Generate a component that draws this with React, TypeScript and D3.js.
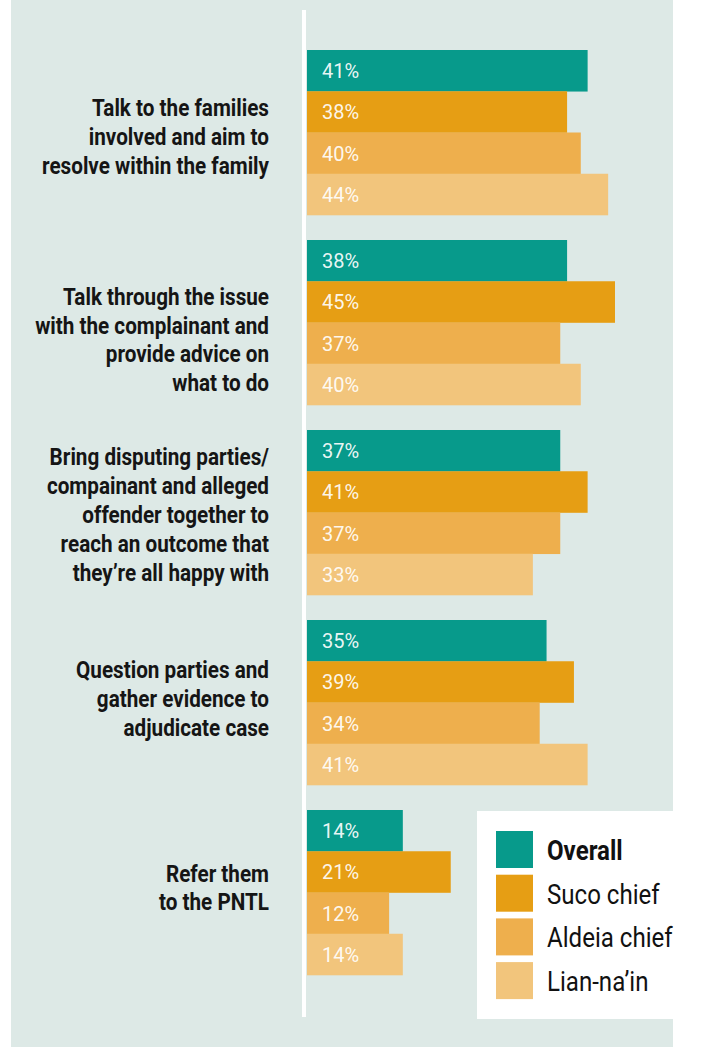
import React from "react";
import * as d3 from "d3";

const categories: string[][] = [
  ["Talk to the families", "involved and aim to", "resolve within the family"],
  ["Talk through the issue", "with the complainant and", "provide advice on", "what to do"],
  ["Bring disputing parties/", "compainant and alleged", "offender together to", "reach an outcome that", "they\u2019re all happy with"],
  ["Question parties and", "gather evidence to", "adjudicate case"],
  ["Refer them", "to the PNTL"],
];

const seriesNames = ["Overall", "Suco chief", "Aldeia chief", "Lian-na\u2019in"];

const overall = [41, 38, 37, 35, 14];
const sucoChief = [38, 45, 41, 39, 21];
const aldeiaChief = [40, 37, 37, 34, 12];
const lianNain = [44, 40, 33, 41, 14];

const seriesValues = [overall, sucoChief, aldeiaChief, lianNain];
const colors = ["#079a8b", "#e69e14", "#eeaf4d", "#f2c57c"];

// small vertical nudges of the category labels (layout only)
const labelNudge = [5, 18, 3, -3, -4];

const W = 713;
const H = 1047;

export default function App() {
  const keys = categories.map((_, i) => String(i));
  const y = d3
    .scaleBand<string>()
    .domain(keys)
    .range([50, 975])
    .paddingInner(25 / 190)
    .paddingOuter(0);
  const yInner = d3
    .scaleBand<string>()
    .domain(seriesNames)
    .range([0, y.bandwidth()])
    .padding(0);
  const x = d3.scaleLinear().domain([0, 45]).range([307, 615]);

  const labelFont = "Roboto, 'Noto Sans', sans-serif";
  const condense = 0.88;
  const labelRight = 269;
  const lineH = 28.8;

  const legendX = 496;
  const legendY = 831;
  const legendStep = 43.7;
  const sw = 37;

  return (
    <div style={{ position: "absolute", left: 0, top: 0 }}>
      <svg width={W} height={H} style={{ display: "block" }}>
        <rect x={0} y={0} width={W} height={H} fill="#ffffff" />
        <rect x={11} y={0} width={662} height={H} fill="#dde9e6" />
        <rect x={302} y={10} width={4} height={1007} fill="#ffffff" />

        {keys.map((k, ci) => {
          const lines = categories[ci];
          const cy = (y(k) as number) + y.bandwidth() / 2 + labelNudge[ci];
          const firstBaseline = cy - ((lines.length - 1) * lineH) / 2 + 7.5;
          return (
            <g key={"g" + k}>
              {seriesNames.map((s, si) => {
                const v = seriesValues[si][ci];
                const by = (y(k) as number) + (yInner(s) as number);
                return (
                  <g key={s}>
                    <rect
                      x={x(0)}
                      y={by}
                      width={x(v) - x(0)}
                      height={yInner.bandwidth() + 0.3}
                      fill={colors[si]}
                    />
                    <text
                      x={322}
                      y={by + yInner.bandwidth() / 2 + 7.5}
                      fill="#ffffff"
                      fillOpacity={0.93}
                      fontFamily={labelFont}
                      fontSize={20}
                    >
                      {v}%
                    </text>
                  </g>
                );
              })}
              {lines.map((ln, li) => (
                <text
                  key={li}
                  transform={`translate(${labelRight},${firstBaseline + li * lineH}) scale(${condense},1)`}
                  textAnchor="end"
                  fontFamily={labelFont}
                  fontWeight={700}
                  fontSize={23.5}
                  fill="#151515"
                >
                  {ln}
                </text>
              ))}
            </g>
          );
        })}

        <rect x={477} y={811} width={196} height={208} fill="#ffffff" />
        {seriesNames.map((s, si) => {
          const top = legendY + si * legendStep;
          return (
            <g key={"l" + s}>
              <rect x={legendX} y={top} width={sw} height={sw} fill={colors[si]} />
              <text
                transform={`translate(547,${top + sw / 2 + 10.5}) scale(0.86,1)`}
                fontFamily={labelFont}
                fontWeight={si === 0 ? 700 : 400}
                fontSize={28}
                fill="#111111"
              >
                {s}
              </text>
            </g>
          );
        })}
      </svg>
    </div>
  );
}
